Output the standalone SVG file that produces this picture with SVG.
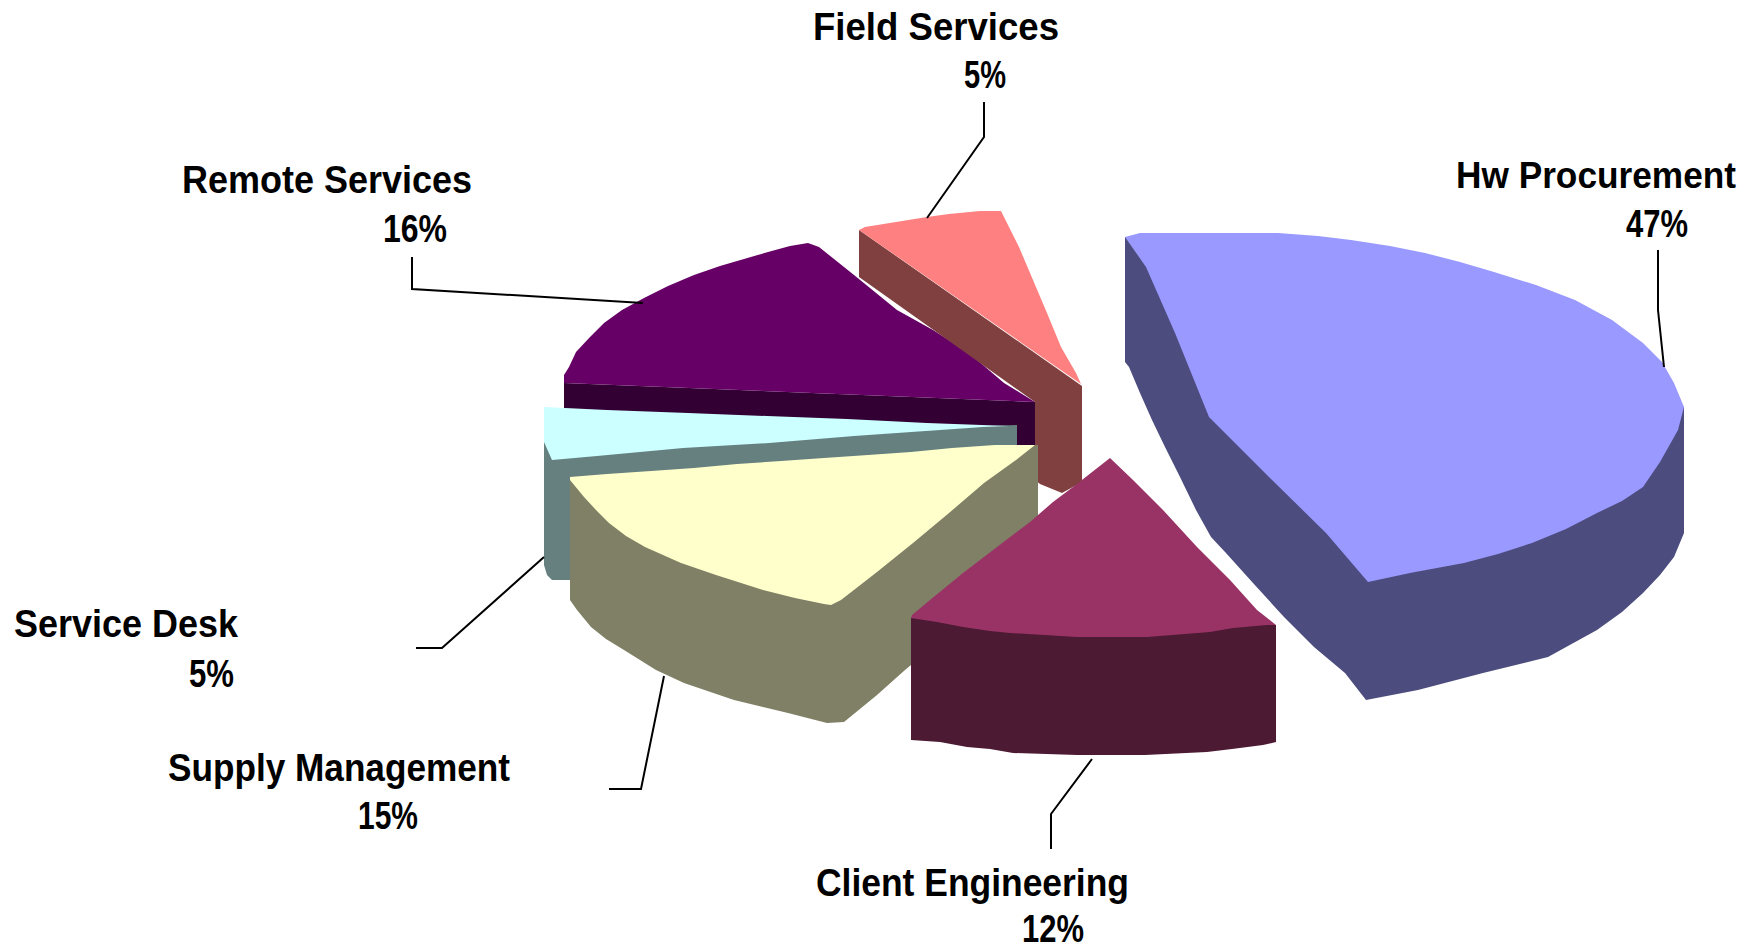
<svg xmlns="http://www.w3.org/2000/svg" width="1754" height="948" viewBox="0 0 1754 948">
<style>
.lbl{font-family:"Liberation Sans",Arial,sans-serif;font-size:38px;font-weight:bold;fill:#000}
.lead{fill:none;stroke:#000;stroke-width:2}
</style>
<rect width="1754" height="948" fill="#fff"/>
<g id="remote-services">
<path fill="#330033" d="M564,383 L1035,402 L1035,446 L564,420 Z"/>
<path fill="#660066" d="M564,383 L564,375 L569,367 L576,352 L590,337 L604,323 L622,310 L644,298 L668,286 L694,275 L720,266 L744,259 L768,252 L790,246 L808,243 L819,247 L854,275 L897,310 L933,330 L969,353 L1004,383 L1035,402 Z"/>
</g>
<g id="field-services">
<path fill="#804040" d="M859,230 L859,277 L1035,402 L1035,480 L1040,484 L1062,493 L1082,482 L1082,386 Z"/>
<path fill="#FF8080" d="M859,230 L865,227 L927,217 L949,214 L980,211 L1001,211 L1004,217 L1019,247 L1033,280 L1047,313 L1061,347 L1076,373 L1081,384 Z"/>
</g>
<g id="service-desk">
<path fill="#668080" d="M544,440 L1017,425 L1017,446 L570,478 L570,580 L552,580 L547,575 L544,565 Z"/>
<path fill="#CCFFFF" d="M544,407 L607,410 L688,413 L767,416 L847,419 L927,423 L1009,426 L983,427 L940,430 L854,436 L769,443 L683,448 L597,456 L552,460 L544,442 Z"/>
</g>
<g id="supply-management">
<path fill="#808066" d="M570,477 L570,600 L577,610 L591,627 L606,639 L624,650 L656,670 L684,683 L734,700 L788,713 L827,723 L844,722 L877,695 L905,670 L1038,560 L1038,445 Z"/>
<path fill="#FFFFCC" d="M570,477 L607,474 L651,471 L694,468 L737,464 L781,461 L824,458 L868,455 L911,452 L952,448 L995,445 L1035,445 L1016,460 L984,483 L949,513 L913,543 L877,572 L841,600 L831,605 L824,604 L795,598 L763,590 L716,575 L681,563 L645,547 L626,536 L609,523 L596,510 L584,497 L570,480 Z"/>
</g>
<g id="client-engineering">
<path fill="#4D1A33" d="M911,618 L911,740 L940,742 L967,747 L990,749 L1013,753 L1077,755 L1145,755 L1207,752 L1232,749 L1263,745 L1276,742 L1276,625 Z"/>
<path fill="#993366" d="M911,618 L912,615 L930,600 L963,573 L997,547 L1030,522 L1053,502 L1073,487 L1110,458 L1133,480 L1163,510 L1197,547 L1230,580 L1257,610 L1276,625 L1267,625 L1233,628 L1210,632 L1147,637 L1077,637 L1010,633 L990,631 L963,627 L937,622 Z"/>
</g>
<g id="hw-procurement">
<path fill="#4C4C7E" d="M1125,237 L1125,362 L1129,367 L1140,393 L1152,420 L1165,447 L1180,477 L1196,510 L1211,537 L1226,553 L1253,583 L1284,617 L1314,647 L1345,673 L1366,700 L1418,690 L1483,673 L1548,657 L1597,630 L1622,612 L1643,593 L1660,575 L1674,557 L1684,533 L1684,407 Z"/>
<path fill="#9999FF" d="M1125,237 L1140,233 L1278,233 L1318,236 L1351,240 L1390,246 L1425,253 L1460,262 L1494,272 L1536,285 L1575,300 L1612,320 L1643,343 L1662,362 L1674,383 L1684,407 L1678,430 L1660,462 L1643,487 L1622,501 L1597,513 L1566,529 L1532,543 L1498,554 L1464,563 L1410,573 L1368,582 L1326,533 L1265,473 L1209,417 L1175,333 L1146,267 Z"/>
</g>
<g id="connectors">
<path class="lead" d="M984,102 L984,137 L927,218"/>
<path class="lead" d="M412,257 L412,289 L643,303"/>
<path class="lead" d="M1658,250 L1658,310 L1664,367"/>
<path class="lead" d="M416,648 L442,648 L544,557"/>
<path class="lead" d="M609,789 L641,789 L664,676"/>
<path class="lead" d="M1051,849 L1051,814 L1092,759"/>
</g>
<g id="labels">
<text class="lbl" x="813" y="40" textLength="246" lengthAdjust="spacingAndGlyphs">Field Services</text>
<text class="lbl" x="964" y="88" textLength="42" lengthAdjust="spacingAndGlyphs">5%</text>
<text class="lbl" x="182" y="193" textLength="290" lengthAdjust="spacingAndGlyphs">Remote Services</text>
<text class="lbl" x="383" y="242" textLength="64" lengthAdjust="spacingAndGlyphs">16%</text>
<text class="lbl" x="1456" y="188" textLength="280" lengthAdjust="spacingAndGlyphs" style="font-size:37px">Hw Procurement</text>
<text class="lbl" x="1626" y="237" textLength="62" lengthAdjust="spacingAndGlyphs">47%</text>
<text class="lbl" x="14" y="637" textLength="224" lengthAdjust="spacingAndGlyphs">Service Desk</text>
<text class="lbl" x="189" y="687" textLength="45" lengthAdjust="spacingAndGlyphs">5%</text>
<text class="lbl" x="168" y="781" textLength="342" lengthAdjust="spacingAndGlyphs">Supply Management</text>
<text class="lbl" x="358" y="829" textLength="60" lengthAdjust="spacingAndGlyphs">15%</text>
<text class="lbl" x="816" y="896" textLength="313" lengthAdjust="spacingAndGlyphs">Client Engineering</text>
<text class="lbl" x="1022" y="942" textLength="62" lengthAdjust="spacingAndGlyphs">12%</text>
</g>
</svg>
